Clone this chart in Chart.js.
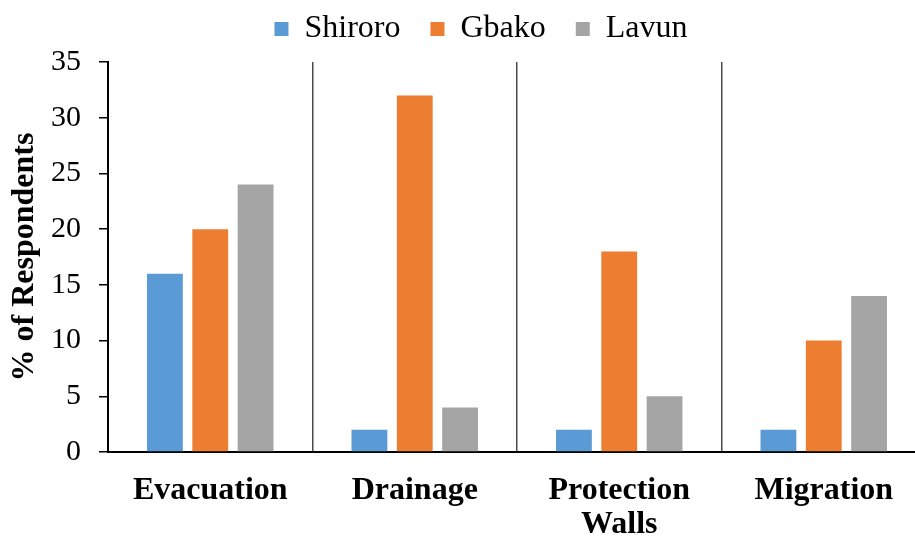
<!DOCTYPE html>
<html>
<head>
<meta charset="utf-8">
<script src="https://cdn.jsdelivr.net/npm/chart.js@4/dist/chart.umd.min.js"></script>
<style>
  html, body { margin: 0; padding: 0; background: #fff; overflow: hidden; }
  #wrap { width: 926px; height: 538px; position: relative; }
</style>
</head>
<body>
<div id="wrap"><canvas id="chart"></canvas></div>
<script>
// Flood-adaptation measures by local government area
const categories = ['Evacuation', 'Drainage', ['Protection', 'Walls'], 'Migration'];
const shiroro = [16, 2, 2, 2];
const gbako   = [20, 32, 18, 10];
const lavun   = [24, 4, 5, 14];
const yTicks  = [0, 5, 10, 15, 20, 25, 30, 35];

const serif = "'Liberation Serif', 'Times New Roman', serif";

// Reserve a fixed band above the plot for the legend and nudge the legend within it
const legendPlacement = {
  id: 'legendPlacement',
  beforeLayout(chart) {
    const lg = chart.legend;
    if (lg && !lg.__fitWrapped) {
      const fit = lg.fit;
      lg.fit = function () { fit.call(this); this.height = 62; };
      lg.__fitWrapped = true;
    }
  },
  afterLayout(chart) {
    const lg = chart.legend;
    if (!lg) return;
    lg.top -= 17; lg.bottom -= 17;
    lg.left += 18; lg.right += 18;
  }
};

new Chart(document.getElementById('chart'), {
  type: 'bar',
  data: {
    labels: categories,
    datasets: [
      { label: 'Shiroro', data: shiroro, backgroundColor: '#5B9BD5' },
      { label: 'Gbako',   data: gbako,   backgroundColor: '#ED7D31' },
      { label: 'Lavun',   data: lavun,   backgroundColor: '#A5A5A5' }
    ]
  },
  plugins: [legendPlacement],
  options: {
    responsive: true,
    maintainAspectRatio: false,
    animation: false,
    layout: { padding: 0 },
    datasets: { bar: { categoryPercentage: 0.665, barPercentage: 0.79 } },
    plugins: {
      tooltip: { enabled: false },
      legend: {
        position: 'top',
        labels: {
          font: { family: serif, size: 32 },
          color: '#000',
          boxWidth: 14,
          boxHeight: 14,
          padding: 30
        }
      }
    },
    scales: {
      x: {
        grid: {
          display: true,
          offset: true,
          color: '#4a4a4a',
          lineWidth: 1.5,
          drawTicks: false
        },
        border: { display: true, color: '#000', width: 2 },
        ticks: {
          font: { family: serif, size: 32, weight: 'bold', lineHeight: 1.05 },
          color: '#000',
          padding: 22,
          maxRotation: 0,
          autoSkip: false
        },
        afterFit: (s) => { s.height = 86; }
      },
      y: {
        min: 0,
        max: 35,
        afterBuildTicks: (s) => { s.ticks = yTicks.map(v => ({ value: v })); },
        grid: {
          display: true,
          drawOnChartArea: false,
          drawTicks: true,
          tickLength: 9,
          color: '#000',
          lineWidth: 1.5
        },
        border: { display: true, color: '#000', width: 2 },
        ticks: {
          font: { family: serif, size: 30 },
          color: '#000',
          padding: 18
        },
        title: {
          display: true,
          text: '% of Respondents',
          font: { family: serif, size: 32, weight: 'bold' },
          color: '#000',
          padding: { top: 6, bottom: 0 }
        },
        afterFit: (s) => { s.width = 108; }
      }
    }
  }
});
</script>
</body>
</html>
